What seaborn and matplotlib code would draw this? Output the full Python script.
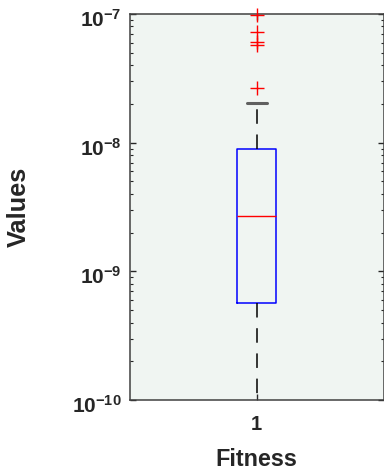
import matplotlib
matplotlib.use("Agg")
import matplotlib.pyplot as plt
from matplotlib.ticker import FixedLocator, FixedFormatter, LogLocator, NullFormatter
from matplotlib.transforms import ScaledTranslation
import numpy as np
import pandas as pd
import seaborn as sns

# Best fitness values over the independent runs
fitness = [3.5e-11, 1.1e-10, 1.9e-10, 2.7e-10, 3.6e-10, 4.6e-10, 5.64e-10,
           7.9e-10, 1.05e-9, 1.35e-9, 1.7e-9, 2.15e-9, 2.69e-9, 3.3e-9,
           4.0e-9, 4.9e-9, 6.0e-9, 7.3e-9, 8.88e-9, 2.05e-8, 2.67e-8,
           5.74e-8, 6.06e-8, 7.28e-8, 9.8e-8]
group = ["1"] * len(fitness)
y_ticks = [1e-10, 1e-9, 1e-8, 1e-7]
y_tick_labels = [r"$\mathbf{10^{-10}}$", r"$\mathbf{10^{-9}}$",
                 r"$\mathbf{10^{-8}}$", r"$\mathbf{10^{-7}}$"]

sns.set_style("white")
plt.rcParams["font.family"] = ["Liberation Sans", "DejaVu Sans"]
plt.rcParams["mathtext.fontset"] = "custom"
plt.rcParams["mathtext.rm"] = "Liberation Sans"
plt.rcParams["mathtext.bf"] = "Liberation Sans:bold"

ink = "#262626"
df = pd.DataFrame({"group": group, "value": fitness})

fig = plt.figure(figsize=(3.84, 4.75), dpi=100)
ax = fig.add_axes([130 / 384, 75 / 475, 253.5 / 384, 386 / 475])
ax.set_facecolor("#F0F5F2")

sns.boxplot(
    data=df, x="group", y="value", ax=ax,
    width=0.154, fill=False, color="#0000FF", linewidth=1.1,
    whiskerprops=dict(color="black", linestyle=(0, (9.5, 7))),
    capprops=dict(color="#606060", linewidth=2.2),
    medianprops=dict(color="#FF0000", linewidth=1.0),
    flierprops=dict(marker="+", markeredgecolor="#FF0000",
                    markerfacecolor="#FF0000", markersize=9.5,
                    markeredgewidth=1.0, clip_on=False, zorder=5),
)

ax.set_yscale("log")
ax.set_ylim(1e-10, 1e-7)
ax.set_xlim(-0.5, 0.5)

ax.yaxis.set_major_locator(FixedLocator(y_ticks))
ax.yaxis.set_major_formatter(FixedFormatter(y_tick_labels))
ax.yaxis.set_minor_locator(LogLocator(base=10, subs=np.arange(2, 10)))
ax.yaxis.set_minor_formatter(NullFormatter())

ax.tick_params(axis="both", which="both", direction="in", colors=ink,
               left=True, right=True, top=True, bottom=True)
ax.tick_params(axis="both", which="major", length=4, width=1.0)
ax.tick_params(axis="y", which="major", labelsize=15, pad=6)
ax.tick_params(axis="x", which="major", labelsize=14.5, pad=11)
ax.tick_params(axis="y", which="minor", length=2.5, width=0.8)
for lab in ax.get_xticklabels():
    lab.set_fontweight("bold")

# drop the exponent labels slightly so the base digits sit just below each tick
shift = ScaledTranslation(0, -4 / 100, fig.dpi_scale_trans)
for lab in ax.get_yticklabels():
    lab.set_transform(lab.get_transform() + shift)

for sp in ax.spines.values():
    sp.set_visible(True)
    sp.set_color("#404040")
    sp.set_linewidth(1.1)

ax.set_xlabel("Fitness", fontsize=16.8, fontweight="bold", color=ink)
ax.set_ylabel("Values", fontsize=18.3, fontweight="bold", color=ink)
ax.xaxis.set_label_coords(0.5, -(459 - 400) / 386)
ax.xaxis.label.set_verticalalignment("center")
ax.yaxis.set_label_coords(-(130 - 19) / 253.5, 0.5)
ax.yaxis.label.set_verticalalignment("center")

fig.savefig("out.png", dpi=100)
